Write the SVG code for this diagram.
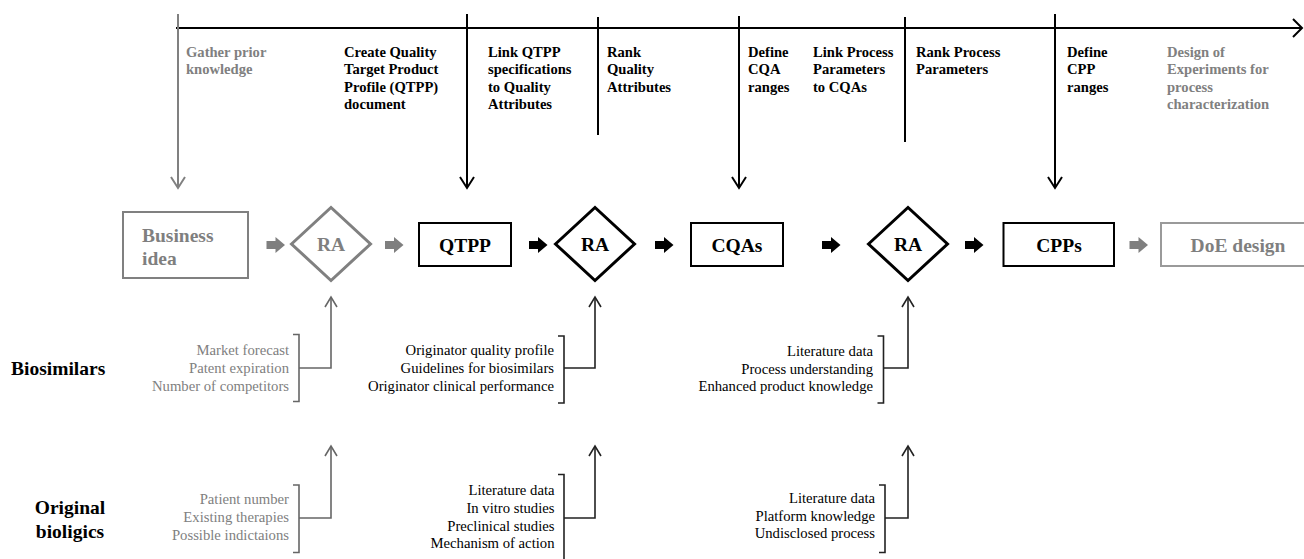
<svg xmlns="http://www.w3.org/2000/svg" width="1304" height="559" viewBox="0 0 1304 559">
<style>
text{font-family:"Liberation Serif","Times New Roman",serif}
.tl{font-size:14.6px;font-weight:bold;fill:#000}
.tg{font-size:14.6px;font-weight:bold;fill:#808080}
.nb{font-size:19.5px;font-weight:bold;fill:#000;text-anchor:middle}
.ng{font-size:19.5px;font-weight:bold;fill:#7f7f7f;text-anchor:middle}
.lb{font-size:19.5px;font-weight:bold;fill:#000}
.li{font-size:14.7px;fill:#000;text-anchor:end}
.lig{font-size:14.7px;fill:#808080;text-anchor:end}
.rk{fill:#fff;stroke:#000;stroke-width:2}
.rg{fill:#fff;stroke:#808080;stroke-width:2}
.rl{fill:#fff;stroke:#9a9a9a;stroke-width:2}
.dk{fill:#fff;stroke:#000;stroke-width:3}
.dg{fill:#fff;stroke:#808080;stroke-width:3}
.ln{fill:none;stroke:#000;stroke-width:2}
.lng{fill:none;stroke:#808080;stroke-width:2}
.br{fill:none;stroke:#222;stroke-width:1.6}
.brg{fill:none;stroke:#666;stroke-width:1.6}
</style>
<defs>
<path id="blk" d="M0,-4 H9 V-8 L18.5,0 L9,8 V4 H0 Z"/>
</defs>
<rect width="1304" height="559" fill="#fff"/>

<g id="timeline">
<path class="ln" d="M176,28 H1302"/>
<polyline class="ln" points="1293,19 1302,28 1293,37"/>
<path class="lng" d="M178,14 V188"/>
<polyline class="lng" points="171,177 178,188 185,177"/>
<path class="ln" d="M467,14 V188"/>
<polyline class="ln" points="460,177 467,188 474,177"/>
<path class="ln" d="M598,17 V135"/>
<path class="ln" d="M739,16 V188"/>
<polyline class="ln" points="732,177 739,188 746,177"/>
<path class="ln" d="M905,17 V142"/>
<path class="ln" d="M1055,14 V188"/>
<polyline class="ln" points="1048,177 1055,188 1062,177"/>
</g>

<g id="steps">
<text class="tg" x="186" y="56.5">Gather prior<tspan x="186" dy="17.5">knowledge</tspan></text>
<text class="tl" x="344" y="56.5">Create Quality<tspan x="344" dy="17.5">Target Product</tspan><tspan x="344" dy="17.5">Profile (QTPP)</tspan><tspan x="344" dy="17.5">document</tspan></text>
<text class="tl" x="488" y="56.5">Link QTPP<tspan x="488" dy="17.5">specifications</tspan><tspan x="488" dy="17.5">to Quality</tspan><tspan x="488" dy="17.5">Attributes</tspan></text>
<text class="tl" x="607" y="56.5">Rank<tspan x="607" dy="17.5">Quality</tspan><tspan x="607" dy="17.5">Attributes</tspan></text>
<text class="tl" x="748" y="56.5">Define<tspan x="748" dy="17.5">CQA</tspan><tspan x="748" dy="17.5">ranges</tspan></text>
<text class="tl" x="813" y="56.5">Link Process<tspan x="813" dy="17.5">Parameters</tspan><tspan x="813" dy="17.5">to CQAs</tspan></text>
<text class="tl" x="916" y="56.5">Rank Process<tspan x="916" dy="17.5">Parameters</tspan></text>
<text class="tl" x="1067" y="56.5">Define<tspan x="1067" dy="17.5">CPP</tspan><tspan x="1067" dy="17.5">ranges</tspan></text>
<text class="tg" x="1167" y="56.5">Design of<tspan x="1167" dy="17.5">Experiments for</tspan><tspan x="1167" dy="17.5">process</tspan><tspan x="1167" dy="17.5">characterization</tspan></text>
</g>

<g id="node-business">
<rect class="rg" x="123" y="212" width="125" height="66"/>
<text class="ng" style="text-anchor:start" x="142" y="241.5">Business<tspan x="142" dy="23.5">idea</tspan></text>
</g>
<g id="node-ra1">
<polygon class="dg" points="291.5,244 331,207.5 370.5,244 331,280.5"/>
<text class="ng" x="331" y="251">RA</text>
</g>
<g id="node-qtpp">
<rect class="rk" x="419" y="223" width="92" height="43"/>
<text class="nb" x="465" y="251.5">QTPP</text>
</g>
<g id="node-ra2">
<polygon class="dk" points="555.5,244 595,207.5 634.5,244 595,280.5"/>
<text class="nb" x="595" y="251">RA</text>
</g>
<g id="node-cqas">
<rect class="rk" x="691" y="223" width="92" height="43"/>
<text class="nb" x="737" y="251.5">CQAs</text>
</g>
<g id="node-ra3">
<polygon class="dk" points="868.5,244 908,207.5 947.5,244 908,280.5"/>
<text class="nb" x="908" y="251">RA</text>
</g>
<g id="node-cpps">
<rect class="rk" x="1003.5" y="223" width="110.5" height="43"/>
<text class="nb" x="1059" y="251.5">CPPs</text>
</g>
<g id="node-doe">
<rect class="rl" x="1161" y="223" width="150" height="43"/>
<text class="ng" x="1238" y="251.5">DoE design</text>
</g>

<g id="connectors">
<use href="#blk" x="266.5" y="245" fill="#7f7f7f"/>
<use href="#blk" x="385" y="245" fill="#7f7f7f"/>
<use href="#blk" x="529" y="245" fill="#000"/>
<use href="#blk" x="655" y="245" fill="#000"/>
<use href="#blk" x="822" y="245" fill="#000"/>
<use href="#blk" x="965" y="245" fill="#000"/>
<use href="#blk" x="1129.5" y="245" fill="#7f7f7f"/>

<path class="brg" d="M299,368 H331 V297"/>
<polyline class="brg" points="325,307 331,297 337,307"/>
<path class="br" d="M564,368 H595 V297"/>
<polyline class="br" points="589,307 595,297 601,307"/>
<path class="br" d="M883.5,368 H908 V297"/>
<polyline class="br" points="902,307 908,297 914,307"/>

<path class="brg" d="M299,518 H331 V446"/>
<polyline class="brg" points="325,456 331,446 337,456"/>
<path class="br" d="M564,518 H595 V446"/>
<polyline class="br" points="589,456 595,446 601,456"/>
<path class="br" d="M885,518 H908 V446"/>
<polyline class="br" points="902,456 908,446 914,456"/>
</g>

<g id="row-biosimilars">
<text class="lb" x="11" y="375">Biosimilars</text>
<g id="bio-ra1">
<path class="brg" d="M293,334.5 H299 V401.5 H293"/>
<text class="lig" x="289" y="355">Market forecast</text>
<text class="lig" x="289" y="373">Patent expiration</text>
<text class="lig" x="289" y="391">Number of competitors</text>
</g>
<g id="bio-ra2">
<path class="br" d="M558,336 H564 V403 H558"/>
<text class="li" x="554" y="355">Originator quality profile</text>
<text class="li" x="554" y="373">Guidelines for biosimilars</text>
<text class="li" x="554" y="391">Originator clinical performance</text>
</g>
<g id="bio-ra3">
<path class="br" d="M877.5,336 H883.5 V403 H877.5"/>
<text class="li" x="873" y="355.5">Literature data</text>
<text class="li" x="873" y="373.5">Process understanding</text>
<text class="li" x="873" y="391">Enhanced product knowledge</text>
</g>
</g>

<g id="row-original">
<text class="lb" x="70" y="514" style="text-anchor:middle">Original<tspan x="70" dy="24">bioligics</tspan></text>
<g id="orig-ra1">
<path class="brg" d="M293,485 H299 V552.5 H293"/>
<text class="lig" x="289" y="503.5">Patient number</text>
<text class="lig" x="289" y="521.5">Existing therapies</text>
<text class="lig" x="289" y="539.5">Possible indictaions</text>
</g>
<g id="orig-ra2">
<path class="br" d="M558,474.5 H564 V559"/>
<text class="li" x="554.5" y="495">Literature data</text>
<text class="li" x="554.5" y="513">In vitro studies</text>
<text class="li" x="554.5" y="530.5">Preclinical studies</text>
<text class="li" x="554.5" y="548">Mechanism of action</text>
</g>
<g id="orig-ra3">
<path class="br" d="M879,485 H885 V552.5 H879"/>
<text class="li" x="875" y="502.5">Literature data</text>
<text class="li" x="875" y="520.5">Platform knowledge</text>
<text class="li" x="875" y="538">Undisclosed process</text>
</g>
</g>
</svg>
